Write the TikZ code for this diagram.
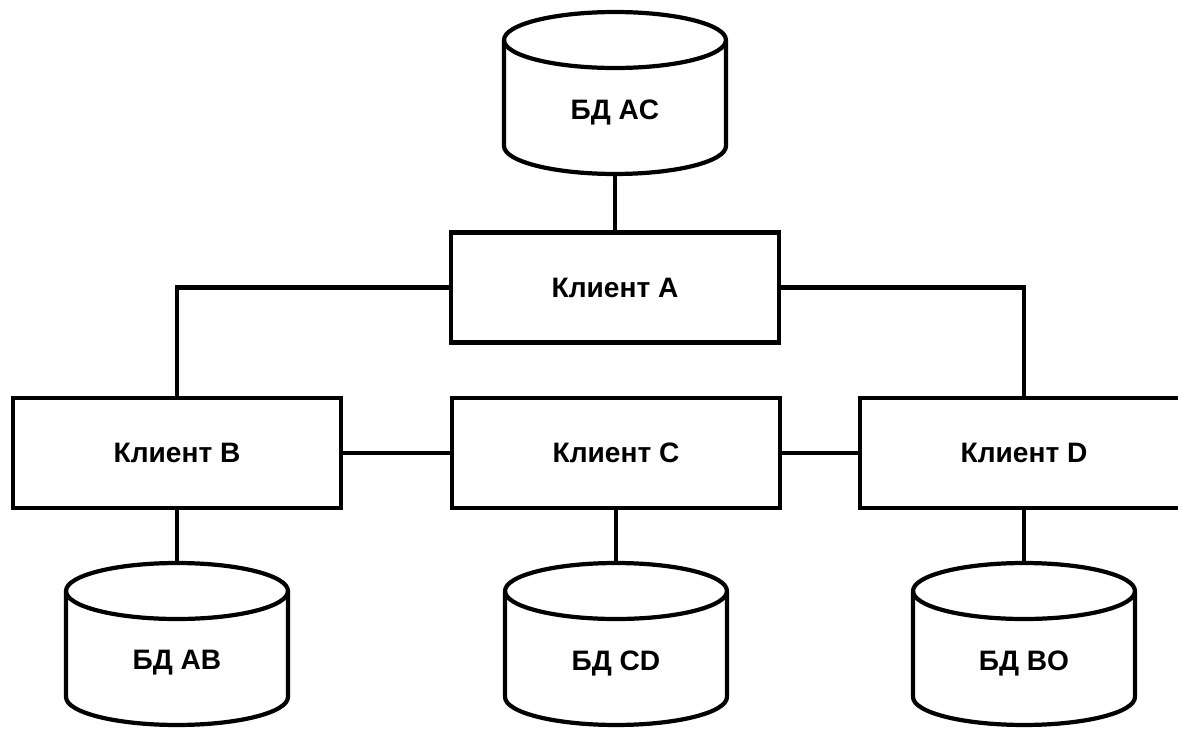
\documentclass[tikz,border=0pt]{standalone}
\usepackage{fontspec}
\setmainfont{Liberation Sans}

\begin{document}
\begin{tikzpicture}[x=0.02cm, y=-0.02cm, line width=2.4pt]
    \tikzstyle{client} = [rectangle, draw, minimum width=6.56cm, minimum height=2.2cm, font=\fontsize{16}{19}\selectfont\bfseries]
    \tikzstyle{db} = [rectangle, minimum width=4.44cm, minimum height=3.24cm, inner sep=0pt, outer sep=0pt]
    \tikzstyle{dbtext} = [font=\fontsize{16}{19}\selectfont\bfseries, yshift=-0.38cm]

    \useasboundingbox (0,0) rectangle (1178,729);

    % Clients
    \node[client] (cla) at (615,287.5) {Клиент A};
    \node[client] (clb) at (177,453) {Клиент B};
    \node[client] (clc) at (616,453) {Клиент C};
    \node[client] (cld) at (1024,453) {Клиент D};

    % Databases
    \node[db, label={[dbtext]center:БД AC}] (dbac) at (615,93) {};
    \node[db, label={[dbtext]center:БД AB}] (dbab) at (177,644) {};
    \node[db, label={[dbtext]center:БД CD}] (dbcd) at (616,644) {};
    \node[db, label={[dbtext]center:БД BO}] (dbbo) at (1024,644) {};

    % Cylinder outlines
    \foreach \n in {dbac,dbab,dbcd,dbbo} {
        \draw[line join=round] ([yshift=-0.56cm]\n.north west) -- ([yshift=0.56cm]\n.south west)
            arc[start angle=180, end angle=360, x radius=2.22cm, y radius=0.56cm]
            -- ([yshift=-0.56cm]\n.north east)
            arc[start angle=0, end angle=180, x radius=2.22cm, y radius=0.56cm] -- cycle;
        \draw ([yshift=-0.56cm]\n.north west)
            arc[start angle=180, end angle=360, x radius=2.22cm, y radius=0.56cm];
    }

    % Connections
    \draw (dbac) -- (cla);
    \draw (cla.west) -| (clb.north);
    \draw (cla.east) -| (cld.north);
    \draw (clb) -- (clc);
    \draw (clc) -- (cld);
    \draw (clb) -- (dbab);
    \draw (clc) -- (dbcd);
    \draw (cld) -- (dbbo);
\end{tikzpicture}
\end{document}
